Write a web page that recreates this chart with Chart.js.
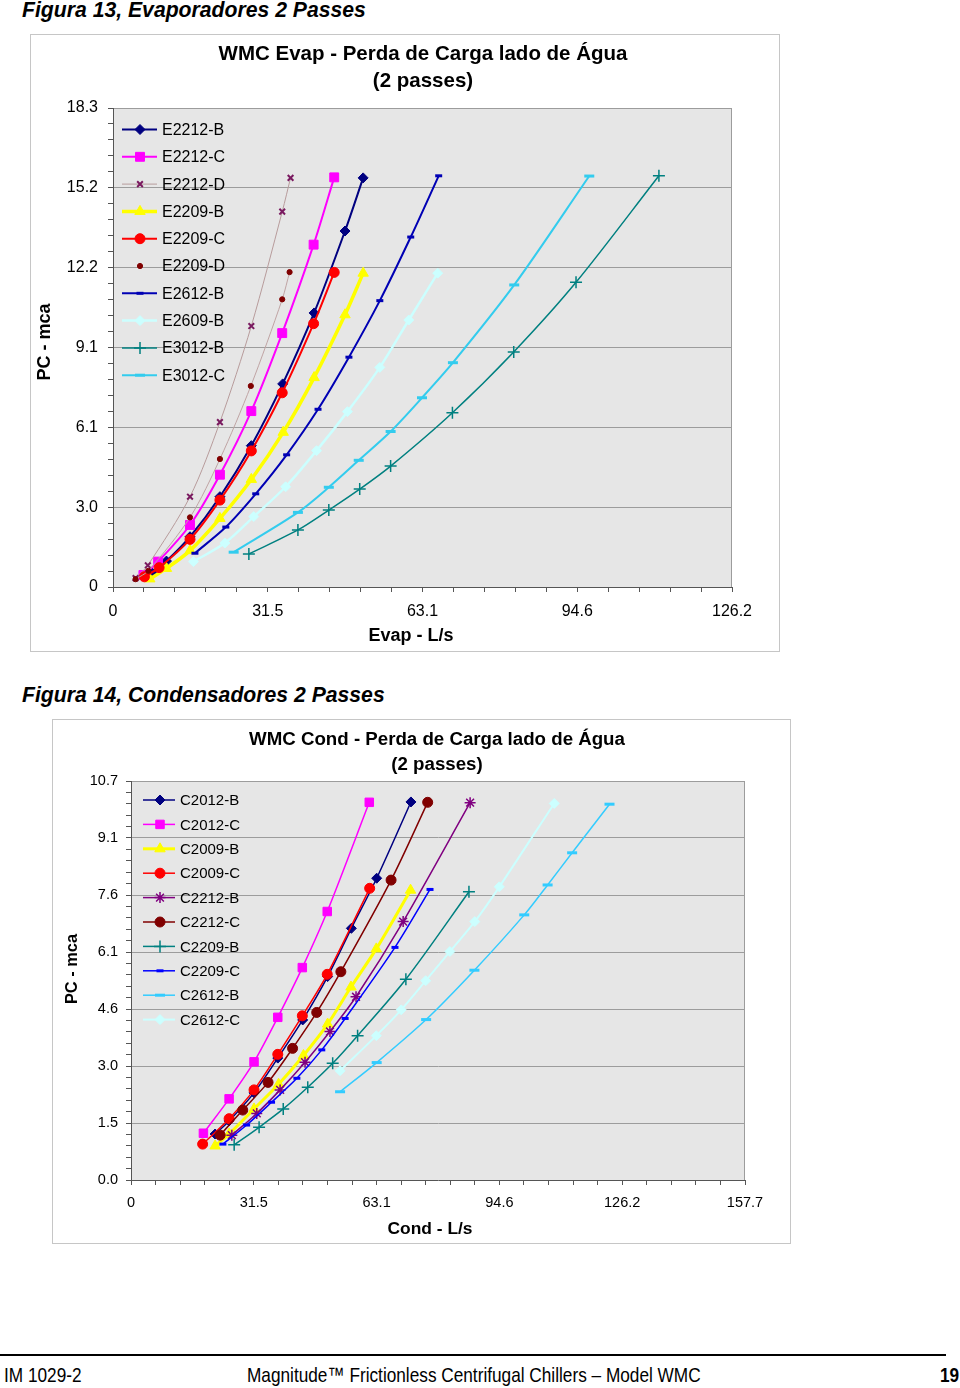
<!DOCTYPE html>
<html>
<head>
<meta charset="utf-8">
<script src="https://cdn.jsdelivr.net/npm/chart.js@4.4.0/dist/chart.umd.min.js"></script>
<style>
  html, body { margin:0; padding:0; background:#fff; }
  body { width:960px; height:1388px; position:relative; overflow:hidden; font-family:"Liberation Sans", Arial, sans-serif; }
  .cap { position:absolute; left:22px; font: italic bold 21.2px "Liberation Sans", Arial, sans-serif; line-height:24px; white-space:nowrap; color:#000; }
  .box { position:absolute; border:1px solid #c6c6c6; box-sizing:border-box; }
  canvas { position:absolute; }
  .ft { position:absolute; top:1363px; font: 21px "Liberation Sans", Arial, sans-serif; line-height:24px; white-space:nowrap; color:#000; transform: scaleX(0.82); transform-origin: left center; }
</style>
</head>
<body>
<div class="cap" style="top:-2px">Figura 13, Evaporadores 2 Passes</div>
<div class="box" style="left:30px;top:34px;width:750px;height:618px"></div>
<canvas id="evap" width="750" height="618" style="left:30px;top:34px"></canvas>

<div class="cap" style="top:683px">Figura 14, Condensadores 2 Passes</div>
<div class="box" style="left:52px;top:719px;width:739px;height:525px"></div>
<canvas id="cond" width="739" height="525" style="left:52px;top:719px"></canvas>

<div style="position:absolute;left:0;top:1354px;width:946px;height:2px;background:#000"></div>
<div class="ft" style="left:4px">IM 1029-2</div>
<div class="ft" style="left:247px">Magnitude™ Frictionless Centrifugal Chillers – Model WMC</div>
<div class="ft" style="left:940px;font-weight:bold">19</div>

<script>
// ---------- Axis tick labels ----------
const evapXTicks = ["0", "31.5", "63.1", "94.6", "126.2"];
const evapYTicks = ["0", "3.0", "6.1", "9.1", "12.2", "15.2", "18.3"];
const evapXMax = 126.2;
const evapYMax = 18.3;
const condXTicks = ["0", "31.5", "63.1", "94.6", "126.2", "157.7"];
const condYTicks = ["0.0", "1.5", "3.0", "4.6", "6.1", "7.6", "9.1", "10.7"];
const condXMax = 157.7;
const condYMax = 10.67;

// ---------- Evaporator series: [flow L/s, pressure drop m] ----------
const E2212_B = [[7.9,0.55],[10.9,0.99],[15.7,1.92],[21.8,3.45],[28.2,5.40],[34.6,7.76],[41.0,10.47],[47.3,13.60],[51.0,15.63]];
const E2212_C = [[6.2,0.46],[9.2,0.97],[15.7,2.37],[21.8,4.29],[28.2,6.72],[34.5,9.70],[40.9,13.08],[45.1,15.65]];
const E2212_D = [[4.6,0.34],[7.1,0.83],[15.7,3.45],[21.8,6.30],[28.2,9.97],[34.5,14.34],[36.2,15.63]];
const E2209_B = [[7.5,0.31],[10.9,0.71],[15.7,1.39],[21.8,2.62],[28.2,4.11],[34.7,5.91],[41.0,8.00],[47.3,10.40],[51.0,11.99]];
const E2209_C = [[6.4,0.39],[9.4,0.74],[15.7,1.82],[21.8,3.32],[28.2,5.20],[34.5,7.42],[40.9,10.06],[45.1,12.02]];
const E2209_D = [[4.6,0.30],[7.2,0.62],[15.7,2.66],[21.8,4.89],[28.1,7.68],[34.5,10.99],[36.0,12.03]];
const E2612_B = [[16.7,1.29],[23.0,2.29],[29.1,3.56],[35.4,5.05],[41.8,6.79],[48.1,8.78],[54.4,10.94],[60.7,13.37],[66.4,15.71]];
const E2609_B = [[16.4,0.97],[22.8,1.68],[28.7,2.69],[35.2,3.83],[41.5,5.21],[47.8,6.70],[54.4,8.39],[60.3,10.20],[66.2,11.99]];
const E3012_B = [[27.7,1.26],[37.7,2.18],[44.0,2.94],[50.3,3.74],[56.6,4.62],[69.2,6.66],[81.7,8.98],[94.4,11.64],[111.3,15.71]];
const E3012_C = [[24.6,1.33],[37.7,2.85],[44.0,3.81],[50.1,4.84],[56.6,5.94],[63.0,7.23],[69.3,8.57],[81.8,11.54],[97.1,15.70]];

// ---------- Condenser series: [flow L/s, pressure drop m] ----------
const C2012_B = [[21.6,1.23],[25.2,1.58],[31.6,2.33],[37.7,3.26],[44.1,4.28],[50.5,5.44],[56.6,6.73],[63.1,8.07],[71.9,10.11]];
const C2012_C = [[18.6,1.25],[25.2,2.17],[31.6,3.16],[37.7,4.35],[44.0,5.68],[50.4,7.18],[61.2,10.10]];
const C2009_B = [[21.6,0.91],[25.2,1.23],[31.6,1.90],[37.9,2.56],[44.3,3.33],[50.5,4.17],[56.5,5.16],[63.0,6.18],[71.8,7.75]];
const C2009_C = [[18.4,0.96],[25.2,1.64],[31.6,2.41],[37.7,3.36],[44.0,4.39],[50.4,5.50],[61.3,7.80]];
const C2212_B = [[25.9,1.20],[32.3,1.78],[38.3,2.41],[44.7,3.15],[51.1,3.97],[57.8,4.90],[69.9,6.91],[87.1,10.09]];
const C2212_C = [[22.9,1.20],[28.7,1.87],[35.2,2.61],[41.5,3.52],[47.7,4.48],[53.9,5.57],[66.8,8.02],[76.2,10.10]];
const C2209_B = [[26.5,0.94],[32.9,1.41],[39.1,1.90],[45.4,2.48],[51.8,3.12],[58.2,3.86],[70.6,5.37],[86.8,7.71]];
const C2209_C = [[23.6,0.96],[29.7,1.47],[36.1,2.08],[42.6,2.72],[49.0,3.48],[55.0,4.32],[67.8,6.22],[76.8,7.77]];
const C2612_B = [[53.7,2.36],[63.1,3.14],[75.8,4.29],[88.2,5.61],[101.0,7.09],[107.0,7.89],[113.3,8.75],[122.9,10.05]];
const C2612_C = [[53.7,2.92],[63.0,3.86],[69.4,4.55],[75.7,5.33],[81.9,6.11],[88.3,6.91],[94.6,7.84],[108.7,10.07]];

const FONT = '"Liberation Sans", Arial, sans-serif';

function series(label, pts, st) {
  return {
    label: label,
    data: pts.map(p => ({x: p[0], y: p[1]})),
    showLine: true,
    borderColor: st.line,
    borderWidth: st.lw,
    backgroundColor: st.fill || st.mark,
    pointStyle: st.ps,
    pointRadius: st.r,
    pointHoverRadius: st.r,
    pointBackgroundColor: st.fill || st.mark,
    pointBorderColor: st.mark,
    pointBorderWidth: st.pbw,
    tension: 0.3,
    legendNoLine: !!st.noLegendLine
  };
}

function axisOpts(axis, max, labels, fontSize, pad, fitSize) {
  const n = (labels.length - 1) * 5;
  const vals = [];
  for (let i = 0; i <= n; i++) vals.push(max * i / n);
  return {
    type: 'linear', min: 0, max: max,
    afterBuildTicks: s => { s.ticks = vals.map(v => ({value: v})); },
    ticks: {
      autoSkip: false, maxRotation: 0, minRotation: 0, padding: pad, color: '#000',
      font: {family: FONT, size: fontSize},
      callback: (v, i) => (i % 5 === 0 ? labels[i / 5] : '')
    },
    grid: {
      drawOnChartArea: axis === 'y', drawTicks: true, tickLength: 5, tickColor: '#555', lineWidth: 1,
      color: c => (axis === 'y' && c.index % 5 === 0 && c.index > 0) ? '#9c9c9c' : 'rgba(0,0,0,0)'
    },
    border: {display: true, color: '#555', width: 1},
    afterFit: s => {
      if (axis === 'y') s.width = fitSize; else s.height = fitSize;
      s.paddingLeft = 0; s.paddingRight = 0; s.paddingTop = 0; s.paddingBottom = 0;
    }
  };
}

const bgPlugin = {
  id: 'plotBg',
  beforeDraw(chart) {
    const {ctx, chartArea: a} = chart;
    ctx.save();
    ctx.fillStyle = '#e6e6e6';
    ctx.fillRect(a.left, a.top, a.right - a.left, a.bottom - a.top);
    ctx.strokeStyle = '#9c9c9c';
    ctx.lineWidth = 1;
    ctx.beginPath();
    ctx.moveTo(a.left, Math.round(a.top) + 0.5);
    ctx.lineTo(Math.round(a.right) - 0.5, Math.round(a.top) + 0.5);
    ctx.lineTo(Math.round(a.right) - 0.5, a.bottom);
    ctx.stroke();
    ctx.restore();
  }
};

function drawMarker(ctx, ds, x, y) {
  ctx.fillStyle = ds.pointBackgroundColor;
  ctx.strokeStyle = ds.pointBorderColor;
  ctx.lineWidth = ds.pointBorderWidth;
  const opt = {pointStyle: ds.pointStyle, radius: ds.pointRadius, rotation: 0, borderWidth: ds.pointBorderWidth};
  if (Chart.helpers && Chart.helpers.drawPoint) { Chart.helpers.drawPoint(ctx, opt, x, y); return; }
  const r = ds.pointRadius;
  ctx.beginPath();
  switch (ds.pointStyle) {
    case 'circle': ctx.arc(x, y, r, 0, Math.PI * 2); ctx.fill(); ctx.stroke(); break;
    case 'rect': { const s = r * Math.SQRT1_2; ctx.rect(x - s, y - s, 2 * s, 2 * s); ctx.fill(); ctx.stroke(); break; }
    case 'rectRot': ctx.moveTo(x, y - r); ctx.lineTo(x + r, y); ctx.lineTo(x, y + r); ctx.lineTo(x - r, y); ctx.closePath(); ctx.fill(); ctx.stroke(); break;
    case 'triangle': ctx.moveTo(x, y - r); ctx.lineTo(x + r * 0.866, y + r / 2); ctx.lineTo(x - r * 0.866, y + r / 2); ctx.closePath(); ctx.fill(); ctx.stroke(); break;
    case 'line': ctx.moveTo(x - r, y); ctx.lineTo(x + r, y); ctx.stroke(); break;
    case 'cross': ctx.moveTo(x - r, y); ctx.lineTo(x + r, y); ctx.moveTo(x, y - r); ctx.lineTo(x, y + r); ctx.stroke(); break;
    case 'crossRot': { const d = r * Math.SQRT1_2; ctx.moveTo(x - d, y - d); ctx.lineTo(x + d, y + d); ctx.moveTo(x - d, y + d); ctx.lineTo(x + d, y - d); ctx.stroke(); break; }
    case 'star': { const d = r * Math.SQRT1_2; ctx.moveTo(x - r, y); ctx.lineTo(x + r, y); ctx.moveTo(x, y - r); ctx.lineTo(x, y + r); ctx.moveTo(x - d, y - d); ctx.lineTo(x + d, y + d); ctx.moveTo(x - d, y + d); ctx.lineTo(x + d, y - d); ctx.stroke(); break; }
  }
}

const legendPlugin = {
  id: 'lineLegend',
  afterDatasetsDraw(chart, args, o) {
    const ctx = chart.ctx;
    chart.data.datasets.forEach((ds, i) => {
      const y = o.y0 + i * o.dy;
      ctx.save();
      if (!ds.legendNoLine) {
        ctx.strokeStyle = ds.borderColor;
        ctx.lineWidth = ds.borderWidth;
        ctx.beginPath(); ctx.moveTo(o.x0, y); ctx.lineTo(o.x1, y); ctx.stroke();
      }
      drawMarker(ctx, ds, o.xm, y);
      ctx.fillStyle = '#000';
      ctx.font = o.font;
      ctx.textAlign = 'left';
      ctx.textBaseline = 'middle';
      ctx.fillText(ds.label, o.xt, y + 1);
      ctx.restore();
    });
  }
};

const textPlugin = {
  id: 'texts',
  afterDraw(chart, args, o) {
    const ctx = chart.ctx;
    o.items.forEach(t => {
      ctx.save();
      ctx.font = t.font;
      ctx.fillStyle = '#000';
      ctx.textAlign = 'center';
      ctx.textBaseline = 'middle';
      ctx.translate(t.x, t.y);
      if (t.rot) ctx.rotate(t.rot);
      ctx.fillText(t.text, 0, 0);
      ctx.restore();
    });
  }
};

function withOrder(list) {
  const n = list.length;
  list.forEach((d, i) => { d.order = n - i; });
  return list;
}

// ---------- Figure 13: evaporators ----------
const evapSets = withOrder([
  series('E2212-B', E2212_B, {line:'#000080', lw:2, mark:'#000080', ps:'rectRot', r:5, pbw:1}),
  series('E2212-C', E2212_C, {line:'#ff00ff', lw:2, mark:'#ff00ff', ps:'rect', r:6.3, pbw:1}),
  series('E2212-D', E2212_D, {line:'#b89c9c', lw:1, mark:'#7a1a60', ps:'crossRot', r:4, pbw:2}),
  series('E2209-B', E2209_B, {line:'#ffff00', lw:3.5, mark:'#ffff00', ps:'triangle', r:6, pbw:1}),
  series('E2209-C', E2209_C, {line:'#ff0000', lw:2, mark:'#ff0000', ps:'circle', r:5, pbw:1}),
  series('E2209-D', E2209_D, {line:'#c0a4a4', lw:1, mark:'#800000', ps:'circle', r:2.6, pbw:1, noLegendLine:true}),
  series('E2612-B', E2612_B, {line:'#0000b4', lw:2, mark:'#0000b4', ps:'line', r:3.5, pbw:3}),
  series('E2609-B', E2609_B, {line:'#ccffff', lw:2.5, mark:'#ccffff', ps:'rectRot', r:5, pbw:1}),
  series('E3012-B', E3012_B, {line:'#008080', lw:1.5, mark:'#008080', ps:'cross', r:6, pbw:1.5}),
  series('E3012-C', E3012_C, {line:'#33ccee', lw:2, mark:'#33ccee', ps:'line', r:5, pbw:3})
]);

new Chart(document.getElementById('evap'), {
  type: 'scatter',
  data: {datasets: evapSets},
  options: {
    responsive: false, animation: false, devicePixelRatio: 1,
    layout: {padding: {left: 0, right: 48, top: 74, bottom: 0}},
    scales: {
      x: axisOpts('x', evapXMax, evapXTicks, 16, 10.4, 65),
      y: axisOpts('y', evapYMax, evapYTicks, 16, 10, 83)
    },
    plugins: {
      legend: {display: false},
      tooltip: {enabled: false},
      lineLegend: {x0: 92, x1: 127, xm: 110, xt: 132, y0: 95.5, dy: 27.3, font: '16px ' + FONT},
      texts: {items: [
        {text: 'WMC Evap - Perda de Carga lado de Água', x: 393, y: 20.5, font: 'bold 20.5px ' + FONT},
        {text: '(2 passes)', x: 393, y: 47.5, font: 'bold 20.5px ' + FONT},
        {text: 'Evap - L/s', x: 381, y: 602, font: 'bold 18px ' + FONT},
        {text: 'PC - mca', x: 15, y: 308, font: 'bold 18px ' + FONT, rot: -Math.PI / 2}
      ]}
    }
  },
  plugins: [bgPlugin, legendPlugin, textPlugin]
});

// ---------- Figure 14: condensers ----------
const condSets = withOrder([
  series('C2012-B', C2012_B, {line:'#000080', lw:1.5, mark:'#000080', ps:'rectRot', r:5, pbw:1}),
  series('C2012-C', C2012_C, {line:'#ff00ff', lw:1.5, mark:'#ff00ff', ps:'rect', r:6, pbw:1}),
  series('C2009-B', C2009_B, {line:'#ffff00', lw:3, mark:'#ffff00', ps:'triangle', r:6, pbw:1}),
  series('C2009-C', C2009_C, {line:'#ff0000', lw:1.5, mark:'#ff0000', ps:'circle', r:5, pbw:1}),
  series('C2212-B', C2212_B, {line:'#800080', lw:1.5, mark:'#800080', ps:'star', r:5.5, pbw:1.5}),
  series('C2212-C', C2212_C, {line:'#800000', lw:1.5, mark:'#800000', ps:'circle', r:5, pbw:1}),
  series('C2209-B', C2209_B, {line:'#008080', lw:1.5, mark:'#008080', ps:'cross', r:6, pbw:1.5}),
  series('C2209-C', C2209_C, {line:'#0000ff', lw:1.5, mark:'#0000ff', ps:'line', r:3.5, pbw:3}),
  series('C2612-B', C2612_B, {line:'#33ccff', lw:1.5, mark:'#33ccff', ps:'line', r:5, pbw:3}),
  series('C2612-C', C2612_C, {line:'#ccffff', lw:2, mark:'#ccffff', ps:'rectRot', r:5, pbw:1})
]);

new Chart(document.getElementById('cond'), {
  type: 'scatter',
  data: {datasets: condSets},
  options: {
    responsive: false, animation: false, devicePixelRatio: 1,
    layout: {padding: {left: 0, right: 46, top: 62, bottom: 0}},
    scales: {
      x: axisOpts('x', condXMax, condXTicks, 14.5, 9.5, 64),
      y: axisOpts('y', condYMax, condYTicks, 14.5, 8, 79)
    },
    plugins: {
      legend: {display: false},
      tooltip: {enabled: false},
      lineLegend: {x0: 91, x1: 123, xm: 108, xt: 128, y0: 81, dy: 24.4, font: '15px ' + FONT},
      texts: {items: [
        {text: 'WMC Cond - Perda de Carga lado de Água', x: 385, y: 20.5, font: 'bold 18.7px ' + FONT},
        {text: '(2 passes)', x: 385, y: 45.5, font: 'bold 18.7px ' + FONT},
        {text: 'Cond - L/s', x: 378, y: 510, font: 'bold 17.4px ' + FONT},
        {text: 'PC - mca', x: 20, y: 250, font: 'bold 16.4px ' + FONT, rot: -Math.PI / 2}
      ]}
    }
  },
  plugins: [bgPlugin, legendPlugin, textPlugin]
});
</script>
</body>
</html>
